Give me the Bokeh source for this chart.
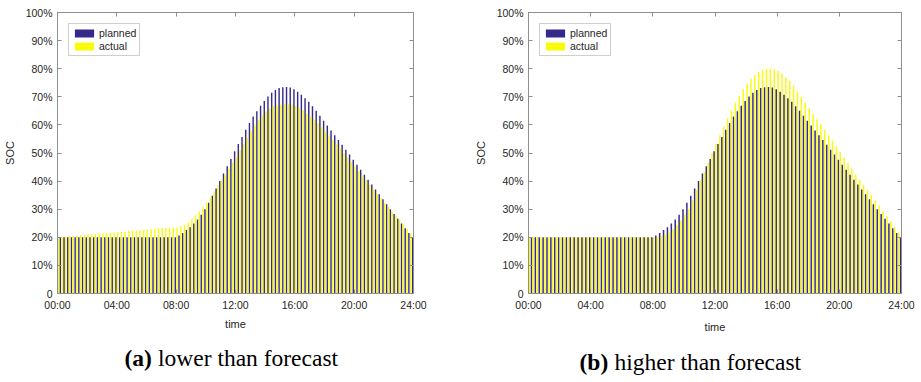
from bokeh.plotting import figure
from bokeh.models import FixedTicker, LinearAxis, Label, Range1d, ColumnDataSource
from bokeh.layouts import row, column
from bokeh.transform import dodge
from bokeh.embed import file_html
from bokeh.resources import INLINE

# ---------------- data ----------------
hours = [i * 0.25 for i in range(97)]  # 15-min steps, 00:00 .. 24:00

x_ticks = [0, 4, 8, 12, 16, 20, 24]
x_tick_labels = ["00:00", "04:00", "08:00", "12:00", "16:00", "20:00", "24:00"]
y_ticks = [0, 10, 20, 30, 40, 50, 60, 70, 80, 90, 100]
y_tick_labels = ["0", "10%", "20%", "30%", "40%", "50%", "60%", "70%", "80%", "90%", "100%"]

planned = [
    20.0, 20.0, 20.0, 20.0, 20.0, 20.0, 20.0, 20.0,
    20.0, 20.0, 20.0, 20.0, 20.0, 20.0, 20.0, 20.0,
    20.0, 20.0, 20.0, 20.0, 20.0, 20.0, 20.0, 20.0,
    20.0, 20.0, 20.0, 20.0, 20.0, 20.0, 20.0, 20.0,
    20.0, 20.6, 21.5, 22.6, 23.6, 24.9, 26.3, 28.0,
    30.0, 32.3, 34.8, 37.4, 40.0, 42.7, 45.3, 47.9,
    50.6, 53.2, 55.7, 58.3, 60.7, 63.0, 64.9, 66.8,
    68.5, 70.1, 71.4, 72.4, 73.1, 73.4, 73.5, 73.3,
    72.7, 71.8, 70.7, 69.5, 68.2, 66.6, 65.0, 63.3,
    61.5, 59.8, 58.0, 56.3, 54.6, 52.9, 51.2, 49.5,
    47.6, 45.8, 44.0, 42.3, 40.5, 38.8, 37.0, 35.3,
    33.5, 31.8, 30.0, 28.3, 26.6, 24.9, 23.2, 21.5,
    20.0,
]

actual_lower = [
    20.0, 20.1, 20.2, 20.4, 20.5, 20.6, 20.7, 20.9,
    21.0, 21.1, 21.2, 21.3, 21.4, 21.5, 21.6, 21.7,
    21.8, 21.9, 22.0, 22.2, 22.3, 22.4, 22.5, 22.7,
    22.8, 22.9, 23.0, 23.2, 23.3, 23.4, 23.4, 23.5,
    23.5, 23.9, 24.4, 25.3, 26.5, 27.9, 29.3, 30.9,
    32.4, 34.2, 36.3, 38.4, 40.3, 42.3, 44.4, 46.5,
    48.6, 51.0, 53.3, 55.6, 57.8, 59.9, 61.7, 63.4,
    64.8, 65.8, 66.6, 67.0, 67.3, 67.4, 67.4, 67.3,
    66.8, 66.1, 65.1, 64.0, 63.0, 61.9, 60.6, 59.2,
    57.7, 56.2, 54.7, 53.2, 51.6, 50.0, 48.4, 46.8,
    45.2, 43.5, 41.9, 40.3, 38.7, 37.1, 35.5, 33.9,
    32.3, 30.8, 29.3, 27.8, 26.3, 24.8, 23.0, 21.4,
    20.0,
]

actual_higher = [
    20.0, 20.0, 20.0, 20.0, 20.0, 20.0, 20.0, 20.0,
    20.0, 20.0, 20.0, 20.0, 20.0, 20.0, 20.0, 20.0,
    20.0, 20.0, 20.0, 20.0, 20.0, 20.0, 20.0, 20.0,
    20.0, 20.0, 20.0, 20.0, 20.0, 20.0, 20.0, 20.0,
    20.0, 20.0, 20.3, 21.0, 21.8, 22.9, 24.3, 26.0,
    27.9, 30.0, 33.2, 36.8, 40.2, 43.3, 46.6, 50.0,
    53.3, 56.3, 59.4, 62.3, 65.1, 67.8, 70.4, 72.7,
    74.7, 76.5, 77.7, 78.8, 79.6, 79.9, 80.0, 79.8,
    79.3, 78.3, 77.0, 75.7, 74.0, 71.9, 69.9, 68.0,
    66.0, 64.0, 62.0, 60.2, 58.3, 56.3, 54.4, 52.4,
    50.4, 48.4, 46.4, 44.4, 42.4, 40.5, 38.7, 36.8,
    35.0, 33.1, 31.3, 29.4, 27.5, 25.6, 23.7, 21.8,
    20.0,
]

series_names = ["planned", "actual"]
captions = [("(a)", "lower than forecast"), ("(b)", "higher than forecast")]

# ---------------- style ----------------
NAVY = "#35298A"
YELLOW = "#F9FB0E"
AXIS_GRAY = "#8f8f8f"
TEXT = "#262626"
SANS = "Liberation Sans"
SERIF = "Liberation Serif"


def style_axis(ax, ticks, labels, show_labels=True):
    ax.ticker = FixedTicker(ticks=ticks)
    ax.major_label_overrides = {t: l for t, l in zip(ticks, labels)}
    ax.major_tick_in = 4
    ax.major_tick_out = 0
    ax.minor_tick_line_color = None
    ax.axis_line_color = AXIS_GRAY
    ax.major_tick_line_color = AXIS_GRAY
    ax.major_label_text_font = SANS
    ax.major_label_text_color = TEXT
    if show_labels:
        ax.major_label_text_font_size = "10.5px"
        ax.major_label_standoff = 5
        ax.axis_label_text_font = SANS
        ax.axis_label_text_font_size = "11px"
        ax.axis_label_text_font_style = "normal"
        ax.axis_label_text_color = TEXT
        ax.axis_label_standoff = 7
    else:
        ax.major_label_text_font_size = "0px"
        ax.major_label_standoff = 0


def make_panel(width, height, borders, actual, time_standoff):
    left, right, top, bottom = borders
    src = ColumnDataSource(dict(h=hours, planned=planned, actual=actual))
    p = figure(width=width, height=height, x_range=Range1d(0, 24), y_range=Range1d(0, 100),
               output_backend="svg", toolbar_location=None,
               min_border_left=left, min_border_right=right,
               min_border_top=top, min_border_bottom=bottom,
               x_axis_label="time", y_axis_label="SOC")
    p.vbar(x=dodge("h", -0.06), top="planned", width=0.095, source=src,
           fill_color=NAVY, line_color=None, legend_label=series_names[0])
    p.vbar(x=dodge("h", 0.06), top="actual", width=0.095, source=src,
           fill_color=YELLOW, line_color=None, legend_label=series_names[1])

    p.grid.visible = False
    p.outline_line_color = AXIS_GRAY
    p.background_fill_color = "white"
    p.border_fill_color = "white"

    style_axis(p.xaxis[0], x_ticks, x_tick_labels)
    style_axis(p.yaxis[0], y_ticks, y_tick_labels)
    p.xaxis[0].axis_label_standoff = time_standoff
    top_ax = LinearAxis()
    right_ax = LinearAxis()
    style_axis(top_ax, x_ticks, ["" for _ in x_ticks], show_labels=False)
    style_axis(right_ax, y_ticks, ["" for _ in y_ticks], show_labels=False)
    p.add_layout(top_ax, "above")
    p.add_layout(right_ax, "right")

    lg = p.legend[0]
    lg.location = "top_left"
    lg.margin = 11
    lg.padding = 3
    lg.spacing = 1
    lg.glyph_width = 24
    lg.glyph_height = 10
    lg.label_height = 12
    lg.label_standoff = 3
    lg.label_text_font = SANS
    lg.label_text_font_size = "10.5px"
    lg.label_text_color = TEXT
    lg.border_line_color = "#a0a0a0"
    return p


pa = make_panel(460, 335, (56, 47, 12, 41), actual_lower, 4)
pb = make_panel(461, 335, (68, 20, 5, 36), actual_higher, 7)

# caption strip below the two panels
cap = figure(width=921, height=47, x_range=Range1d(0, 921), y_range=Range1d(0, 47),
             output_backend="svg", toolbar_location=None,
             min_border_left=0, min_border_right=0, min_border_top=0, min_border_bottom=0)
cap.axis.visible = False
cap.grid.visible = False
cap.outline_line_color = None

cap_pos = [(124, 25), (579, 21)]
for (tag, rest), (cx, cy) in zip(captions, cap_pos):
    tag_w = 27.5 if tag == "(a)" else 29
    cap.add_layout(Label(x=cx, y=cy, text=tag, text_font=SERIF, text_font_size="23.5px",
                         text_font_style="bold", text_align="left",
                         text_baseline="alphabetic", text_color="black"))
    cap.add_layout(Label(x=cx + tag_w + 6, y=cy, text=rest, text_font=SERIF,
                         text_font_size="23.5px", text_align="left",
                         text_baseline="alphabetic", text_color="black"))

layout = column(row(pa, pb), cap)
open("out.html", "w").write(file_html(layout, INLINE))
